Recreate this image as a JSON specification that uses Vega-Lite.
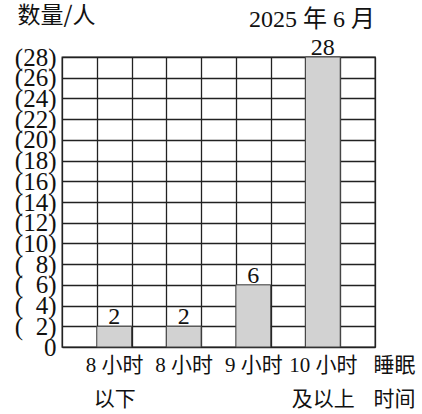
{
  "$schema": "https://vega.github.io/schema/vega-lite/v6.json",
  "width": 313,
  "height": 290,
  "autosize": {"type": "none"},
  "padding": {"left": 62, "top": 57, "right": 47, "bottom": 67},
  "background": "white",
  "title": {
    "text": "2025 年 6 月",
    "anchor": "end",
    "frame": "group",
    "offset": -47,
    "baseline": "alphabetic",
    "font": "Liberation Serif, Noto Sans CJK SC",
    "fontSize": 24,
    "fontWeight": "normal",
    "color": "#111"
  },
  "data": {
    "values": [
      {"category": "8小时以下", "count": 2},
      {"category": "8小时", "count": 2},
      {"category": "9小时", "count": 6},
      {"category": "10小时及以上", "count": 28}
    ]
  },
  "encoding": {
    "x": {
      "field": "category",
      "type": "nominal",
      "scale": {
        "domain": ["g0", "8小时以下", "g1", "8小时", "g2", "9小时", "g3", "10小时及以上", "g4"],
        "paddingInner": 0,
        "paddingOuter": 0
      },
      "axis": {
        "grid": true,
        "tickBand": "extent",
        "ticks": false,
        "domain": false,
        "labelAngle": 0,
        "labelPadding": 7,
        "labelBaseline": "top",
        "labelLineHeight": 34,
        "labelOverlap": false,
        "labelExpr": "datum.value == '8小时以下' ? ['8 小时', '以下'] : datum.value == '8小时' ? '8 小时' : datum.value == '9小时' ? '9 小时' : datum.value == '10小时及以上' ? ['10 小时', '及以上'] : ''",
        "title": ["睡眠", "时间"],
        "titleX": 332,
        "titleY": 7,
        "titleAlign": "center",
        "titleBaseline": "top",
        "titleLineHeight": 34
      }
    },
    "y": {
      "field": "count",
      "type": "quantitative",
      "scale": {"domain": [0, 28], "nice": false},
      "axis": {
        "values": [0, 2, 4, 6, 8, 10, 12, 14, 16, 18, 20, 22, 24, 26, 28],
        "grid": true,
        "ticks": false,
        "domain": false,
        "labelOverlap": false,
        "labelPadding": 6,
        "labelFontSize": 25,
        "labelFont": "Liberation Serif",
        "labelExpr": "datum.value == 0 ? '0' : '(' + (datum.value < 10 ? '\u2007' : '') + datum.value + ')'",
        "title": "数量/人",
        "titleAngle": 0,
        "titleAlign": "left",
        "titleBaseline": "alphabetic",
        "titleX": -45,
        "titleY": -35,
        "titleFontSize": 23
      }
    }
  },
  "layer": [
    {
      "mark": {"type": "bar", "fill": "#d2d2d2", "stroke": "#444", "strokeWidth": 1}
    },
    {
      "mark": {
        "type": "text",
        "baseline": "alphabetic",
        "dy": -2,
        "font": "Liberation Serif",
        "fontSize": 24,
        "color": "#111"
      },
      "encoding": {
        "text": {"field": "count", "type": "quantitative"}
      }
    }
  ],
  "config": {
    "view": {"stroke": "#222", "strokeWidth": 1.3},
    "axis": {
      "gridColor": "#222",
      "gridWidth": 1.3,
      "gridOpacity": 1,
      "labelColor": "#111",
      "labelFont": "Liberation Serif, Noto Sans CJK SC",
      "labelFontSize": 21,
      "titleColor": "#111",
      "titleFont": "Noto Sans CJK SC",
      "titleFontSize": 21,
      "titleFontWeight": "normal"
    },
    "axisY": {"labelOverlap": false}
  }
}
